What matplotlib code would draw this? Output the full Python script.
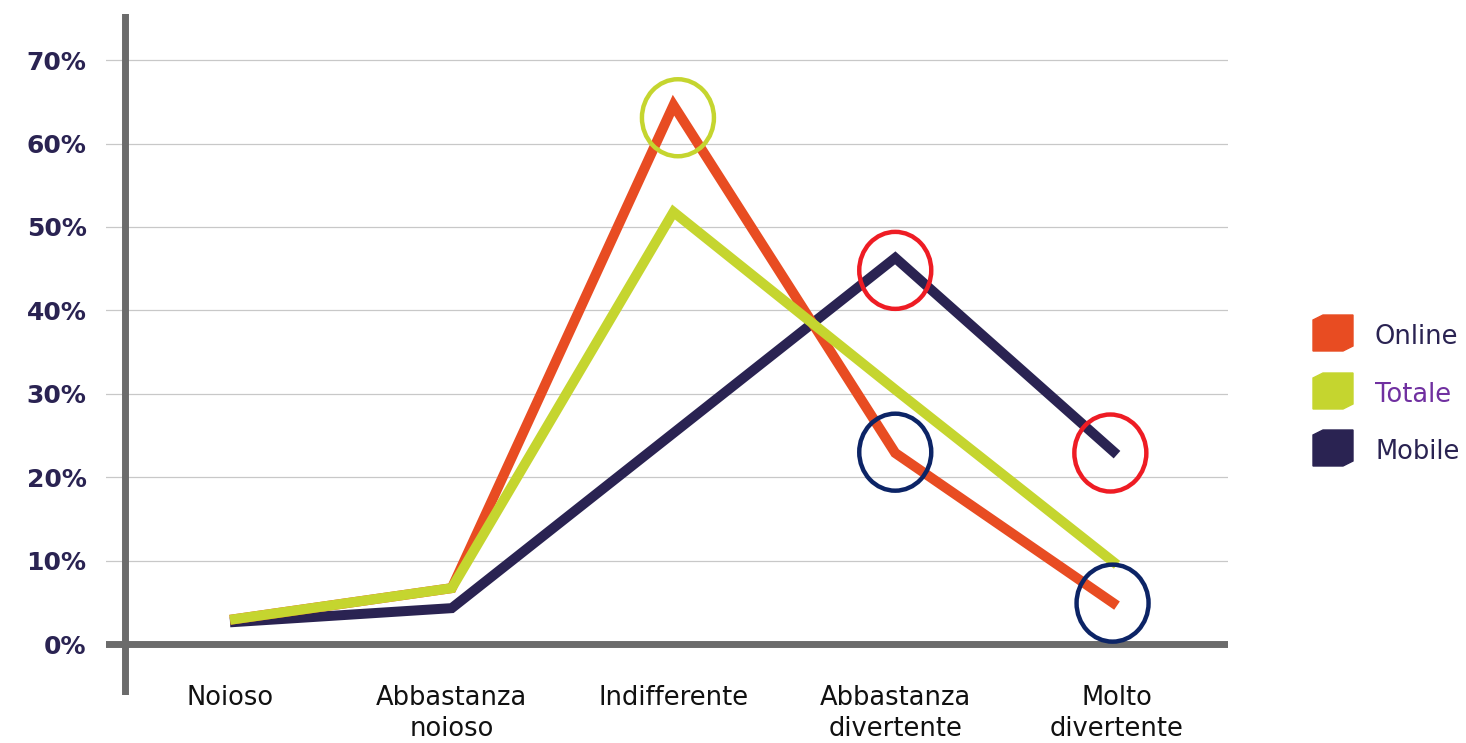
import matplotlib.pyplot as plt
from matplotlib.patches import Ellipse, Polygon

# Data
categories = ["Noioso", "Abbastanza\nnoioso", "Indifferente",
              "Abbastanza\ndivertente", "Molto\ndivertente"]
online = [2.9, 6.7, 64.6, 22.9, 4.6]
totale = [2.9, 6.7, 51.8, 30.5, 9.5]
mobile = [2.6, 4.3, 25.3, 46.3, 22.7]
series_names = ["Online", "Totale", "Mobile"]
yticks = [0, 10, 20, 30, 40, 50, 60, 70]

# highlight circles: (x index, value)
green_marks = [(2.02, 63.1)]
red_marks = [(3.0, 44.8), (3.97, 22.9)]
navy_marks = [(3.0, 23.0), (3.98, 4.9)]

colors = {"Online": "#e84c22", "Totale": "#c5d52f", "Mobile": "#2a2352"}
label_colors = {"Online": "#2a2352", "Totale": "#7030a0", "Mobile": "#2a2352"}
axis_gray = "#6b6b6b"

W, H = 1466, 743
fig = plt.figure(figsize=(W / 100, H / 100), dpi=100)
# axes spans pixel x 106..1228, y 14..695
ax = fig.add_axes([106 / W, 1 - 695 / H, (1228 - 106) / W, (695 - 14) / H])

x = list(range(len(categories)))
# pixel -> data: x index 0 at 230 px, step 221.75 px; y 0% at 644 px, 83.4 px per 10%
ax.set_xlim(-(230 - 106) / 221.75, 4 + (1228 - 1117) / 221.75)
ax.set_ylim(-(695 - 644) / 8.34, (644 - 14) / 8.34)

for s in ax.spines.values():
    s.set_visible(False)

for t in yticks[1:]:
    ax.axhline(t, color="#c8c8c8", lw=0.9, zorder=1)
ax.axhline(0, color=axis_gray, lw=5, zorder=2)
ax.axvline(-(230 - 125) / 221.75, color=axis_gray, lw=5, zorder=2)

order = [("Mobile", mobile), ("Online", online), ("Totale", totale)]
for name, vals in order:
    ax.plot(x, vals, color=colors[name], lw=7.2, zorder=3,
            solid_joinstyle="miter", solid_capstyle="butt")

cw = 72 / 221.75
ch = 77 / 8.34
for marks, col in [(green_marks, "#c5d52f"), (red_marks, "#ee1c24"),
                   (navy_marks, "#0c2466")]:
    for mx, my in marks:
        ax.add_patch(Ellipse((mx, my), cw, ch, fill=False, ec=col, lw=3.2, zorder=4))

ax.set_yticks(yticks)
ax.set_yticklabels([f"{t}%" for t in yticks], fontsize=18, fontweight="heavy",
                   color="#2a2352")
ax.tick_params(axis="y", length=0, pad=14)
ax.set_xticks(x)
ax.set_xticklabels(categories, fontsize=18.5, color="#111111", linespacing=1.25)
ax.tick_params(axis="x", length=0, pad=-7.5)

# legend drawn manually
legend_y = [333, 391, 448]
for name, yc in zip(series_names, legend_y):
    pts = [(1313, yc - 13), (1323, yc - 18), (1353, yc - 18),
           (1353, yc + 13), (1343, yc + 18), (1313, yc + 18)]
    pts = [(px / W, 1 - py / H) for px, py in pts]
    fig.patches.append(Polygon(pts, closed=True, color=colors[name],
                               transform=fig.transFigure))
    fig.text(1375 / W, 1 - (yc + 4) / H, name, fontsize=18.5,
             color=label_colors[name], va="center", ha="left")

fig.savefig("out.png", dpi=100)
